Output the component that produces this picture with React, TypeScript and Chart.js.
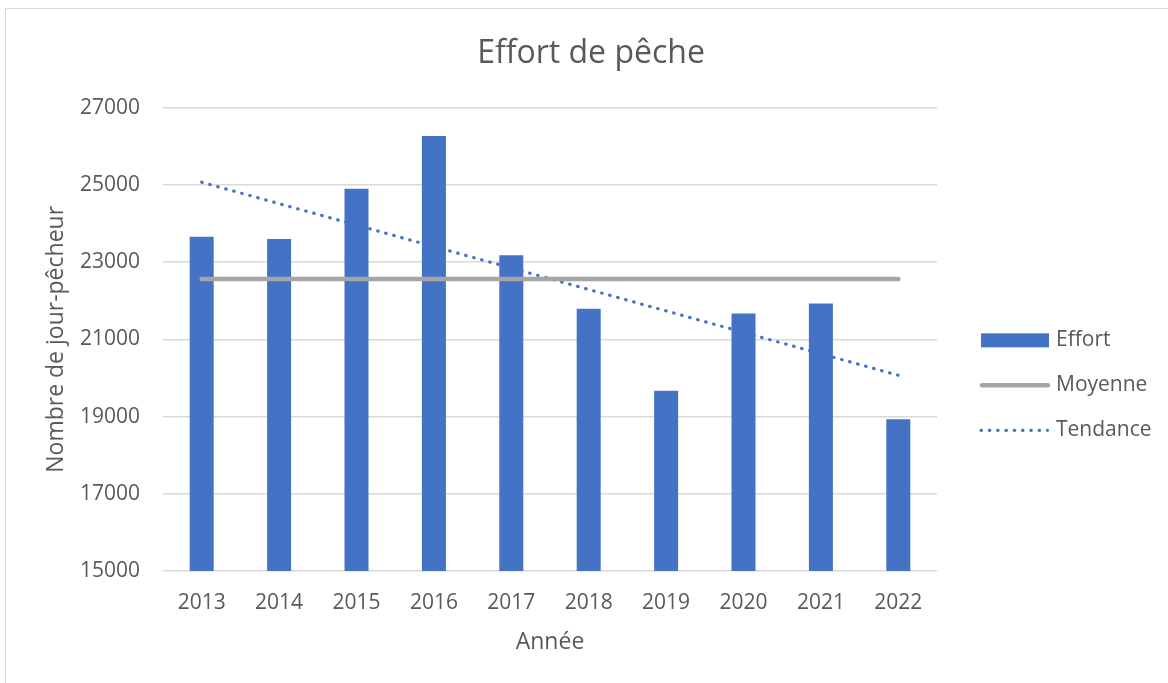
import React, { useEffect, useRef } from 'react';
import { Chart, registerables } from 'chart.js';

Chart.register(...registerables);

// ---- Data ----
const years: string[] = ['2013', '2014', '2015', '2016', '2017', '2018', '2019', '2020', '2021', '2022'];
const effort: number[] = [23660, 23600, 24900, 26270, 23180, 21790, 19670, 21670, 21930, 18930];
const moyenne: number[] = [22560, 22560, 22560, 22560, 22560, 22560, 22560, 22560, 22560, 22560];
const tendance: (number | null)[] = [25070, null, null, null, null, null, null, null, null, 20070];
const yMin = 15000;
const yMax = 27000;
const yStep = 2000;

const FONT = "'Open Sans', sans-serif";
const TEXT = '#595959';
const BLUE = '#4472c4';
const GRAY = '#a5a5a5';
const GRID = '#d9d9d9';

const sideLegend = {
  id: 'sideLegend',
  afterDraw(chart: any) {
    const ctx: CanvasRenderingContext2D = chart.ctx;
    const { right, top, bottom } = chart.chartArea;
    const x0 = right + 44;
    const w = 68;
    const cy = (top + bottom) / 2 + 1;
    const gap = 45;
    ctx.save();
    chart.data.datasets.forEach((ds: any, i: number) => {
      const y = cy + i * gap;
      if (ds.type === 'bar' || !ds.type) {
        ctx.fillStyle = ds.backgroundColor;
        ctx.fillRect(x0, y - 7, w, 14);
      } else {
        ctx.beginPath();
        ctx.strokeStyle = ds.borderColor;
        ctx.lineWidth = ds.borderWidth;
        ctx.lineCap = 'round';
        ctx.setLineDash(ds.borderDash || []);
        ctx.moveTo(x0 + (ds.borderDash ? 0 : 1), y);
        ctx.lineTo(x0 + w - (ds.borderDash ? 1.5 : 1), y);
        ctx.stroke();
        ctx.setLineDash([]);
      }
      ctx.fillStyle = TEXT;
      ctx.font = `21px ${FONT}`;
      ctx.textBaseline = 'middle';
      ctx.textAlign = 'left';
      ctx.fillText(ds.label, x0 + w + 7, y);
    });
    ctx.restore();
  },
};

export default function App() {
  const ref = useRef<HTMLCanvasElement | null>(null);

  useEffect(() => {
    if (!ref.current) return;
    const chart = new Chart(ref.current, {
      type: 'bar',
      data: {
        labels: years,
        datasets: [
          {
            type: 'bar',
            label: 'Effort',
            data: effort,
            backgroundColor: BLUE,
            barPercentage: 0.31,
            categoryPercentage: 1,
            order: 2,
          } as any,
          {
            type: 'line',
            label: 'Moyenne',
            data: moyenne,
            borderColor: GRAY,
            backgroundColor: GRAY,
            borderWidth: 4.5,
            borderCapStyle: 'round',
            pointRadius: 0,
            fill: false,
            order: 1,
          } as any,
          {
            type: 'line',
            label: 'Tendance',
            data: tendance,
            borderColor: BLUE,
            backgroundColor: BLUE,
            borderWidth: 3.2,
            borderCapStyle: 'round',
            borderDash: [0.5, 7.8],
            pointRadius: 0,
            spanGaps: true,
            fill: false,
            order: 3,
          } as any,
        ],
      },
      options: {
        animation: false,
        responsive: false,
        layout: { padding: { top: 0, right: 0, bottom: 0, left: 0 } },
        plugins: {
          legend: { display: false },
          tooltip: { enabled: false },
          title: {
            display: true,
            text: 'Effort de pêche',
            color: TEXT,
            font: { family: FONT, size: 32, weight: 'normal' },
            padding: { top: 26.1, bottom: 34.2 },
          },
        },
        scales: {
          x: {
            offset: true,
            grid: { display: false },
            border: { display: false },
            ticks: { color: TEXT, font: { family: FONT, size: 21 }, padding: 11.5 },
            title: {
              display: true,
              text: 'Année',
              color: TEXT,
              font: { family: FONT, size: 23 },
              padding: { top: 0, bottom: 32.4 },
            },
            afterFit: (s: any) => {
              s.height = 118;
            },
          },
          y: {
            min: yMin,
            max: yMax,
            grid: { color: GRID, lineWidth: 1.5, drawTicks: false },
            border: { display: false },
            ticks: {
              stepSize: yStep,
              color: TEXT,
              font: { family: FONT, size: 21 },
              padding: 23,
              callback: (v: any) => String(v),
            },
            title: {
              display: true,
              text: 'Nombre de jour-pêcheur',
              color: TEXT,
              font: { family: FONT, size: 23 },
              padding: { top: 36.4, bottom: 0 },
            },
            afterFit: (s: any) => {
              s.width = 157;
            },
          },
          yRight: {
            position: 'right',
            display: true,
            grid: { display: false },
            border: { display: false },
            ticks: { display: false },
            afterFit: (s: any) => {
              s.width = 239;
            },
          },
        },
      } as any,
      plugins: [sideLegend],
    });
    return () => chart.destroy();
  }, []);

  return (
    <div
      style={{
        position: 'fixed',
        left: 5,
        top: 8,
        width: 1200,
        height: 700,
        border: '1px solid #d9d9d9',
        background: '#fff',
        overflow: 'hidden',
      }}
    >
      <canvas ref={ref} width={1170} height={680} style={{ display: 'block', width: 1170, height: 680 }} />
    </div>
  );
}
